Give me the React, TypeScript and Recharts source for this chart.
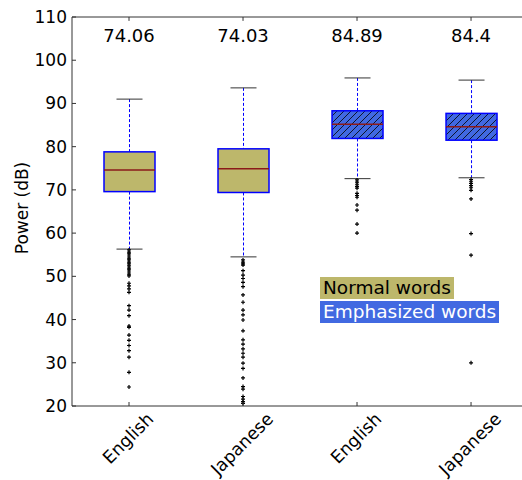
import { ComposedChart, Bar, Scatter, XAxis, YAxis, ReferenceLine } from 'recharts';

// box positions on the x axis (matplotlib style 1..4)
const POSITIONS = [1, 2, 3, 4];
const CATEGORIES = ['English', 'Japanese', 'English', 'Japanese'];
const GROUPS = ['normal', 'normal', 'emphasized', 'emphasized'];

const Q1 = [69.6, 69.4, 81.9, 81.5];
const MEDIAN = [74.6, 74.9, 85.2, 84.6];
const Q3 = [78.8, 79.5, 88.3, 87.7];
const WHISKER_LO = [56.3, 54.5, 72.6, 72.8];
const WHISKER_HI = [91.0, 93.6, 95.9, 95.4];
const MEANS = ['74.06', '74.03', '84.89', '84.4'];
const MEAN_LABEL_Y = 104.2;

const OUTLIERS_EN_NORMAL = [
  56.1, 55.6, 55.2, 54.7, 54.2, 53.8, 53.3, 52.9, 52.4, 51.9, 51.5, 51.0, 50.5, 50.1,
  48.4, 47.8, 47.1, 46.3, 43.2, 42.2, 40.9, 38.5, 38.2, 36.4, 35.2, 34.0, 32.8, 31.3,
  27.8, 24.4,
];
const OUTLIERS_JA_NORMAL = [
  53.8, 53.3, 52.9, 52.6, 51.3, 50.3, 49.5, 48.6, 47.6, 45.7, 44.0, 42.2, 41.1, 39.9,
  37.4, 35.3, 34.3, 33.2, 32.2, 31.3, 29.9, 28.7, 26.5, 24.5, 23.9, 22.2, 21.6, 21.0,
  20.6,
];
const OUTLIERS_EN_EMPH = [72.3, 71.8, 71.3, 70.8, 70.4, 69.2, 68.7, 68.3, 66.5, 65.3, 62.1, 60.0];
const OUTLIERS_JA_EMPH = [72.4, 72.0, 71.5, 71.0, 70.5, 69.9, 67.9, 59.9, 54.9, 30.0];
const OUTLIERS = [OUTLIERS_EN_NORMAL, OUTLIERS_JA_NORMAL, OUTLIERS_EN_EMPH, OUTLIERS_JA_EMPH];

const Y_TICKS = [20, 30, 40, 50, 60, 70, 80, 90, 100, 110];
const Y_TOP = 110;
const TOP_TICK_END = 109.1;
// the original figure is cut at the right edge, a bit before x = 4.5
const X_DOMAIN = [0.5, 4.447];

const FONT = '"DejaVu Sans", sans-serif';
const NORMAL_FILL = '#bdb76b';
const EMPH_FILL = '#4169e1';
const EDGE = '#0000ff';
const MEDIAN_COLOR = '#8b1a1a';
const AXIS_COLOR = '#333';

const boxData = POSITIONS.map((pos, i) => ({
  pos,
  q1: Q1[i],
  med: MEDIAN[i],
  q3: Q3[i],
  lo: WHISKER_LO[i],
  hi: WHISKER_HI[i],
  group: GROUPS[i],
}));

const outlierData = POSITIONS.flatMap((pos, i) => OUTLIERS[i].map((v) => ({ pos, v })));
const meanData = POSITIONS.map((pos, i) => ({ pos, v: MEAN_LABEL_Y, label: MEANS[i] }));

function textWidth(text: string, font: string) {
  try {
    const ctx = document.createElement('canvas').getContext('2d');
    if (ctx) {
      ctx.font = font;
      return ctx.measureText(text).width;
    }
  } catch (e) {
    // ignore
  }
  return text.length * 9;
}

function BoxShape(props: any) {
  const { x, y, width, height, payload } = props;
  if (!payload) return null;
  const k = height / (payload.q3 - payload.q1);
  const cx = x + width / 2;
  const yMed = y + (payload.q3 - payload.med) * k;
  const yHi = y - (payload.hi - payload.q3) * k;
  const yLo = y + height + (payload.q1 - payload.lo) * k;
  const emph = payload.group === 'emphasized';
  const pid = `hatch-${payload.pos}`;
  return (
    <g>
      <defs>
        <pattern id={pid} patternUnits="userSpaceOnUse" width={7} height={7}>
          <path d="M-1,1 l2,-2 M0,7 l7,-7 M6,8 l2,-2" stroke="#000" strokeWidth={0.8} />
        </pattern>
      </defs>
      <line x1={cx} x2={cx} y1={yHi} y2={y} stroke={EDGE} strokeDasharray="3 2" />
      <line x1={cx} x2={cx} y1={y + height} y2={yLo} stroke={EDGE} strokeDasharray="3 2" />
      <line x1={cx - 13} x2={cx + 13} y1={yHi} y2={yHi} stroke={AXIS_COLOR} />
      <line x1={cx - 13} x2={cx + 13} y1={yLo} y2={yLo} stroke={AXIS_COLOR} />
      <rect x={x} y={y} width={width} height={height} fill={emph ? EMPH_FILL : NORMAL_FILL} />
      {emph && <rect x={x} y={y} width={width} height={height} fill={`url(#${pid})`} />}
      <rect x={x} y={y} width={width} height={height} fill="none" stroke={EDGE} strokeWidth={1.5} />
      <line x1={x} x2={x + width} y1={yMed} y2={yMed} stroke={MEDIAN_COLOR} strokeWidth={1.5} />
    </g>
  );
}

function Plus({ cx, cy }: any) {
  return (
    <path
      d={`M${cx - 2},${cy} H${cx + 2} M${cx},${cy - 2} V${cy + 2}`}
      stroke="#000"
      strokeWidth={1.2}
    />
  );
}

function MeanText({ cx, cy, payload }: any) {
  return (
    <text x={cx} y={cy} textAnchor="middle" fontSize={18} fontFamily={FONT} fill="#000">
      {payload.label}
    </text>
  );
}

function BottomTick({ x, y, payload }: any) {
  const label = CATEGORIES[POSITIONS.indexOf(payload.value)] ?? '';
  const w = textWidth(label, `17.5px ${FONT}`);
  const half = ((w + 14) * 0.7071) / 2;
  const ty = y + 5 + half;
  return (
    <g>
      <line x1={x} x2={x} y1={y} y2={y - 4} stroke={AXIS_COLOR} />
      <text
        x={x - 1}
        y={ty}
        textAnchor="middle"
        dominantBaseline="central"
        fontSize={17.5}
        fontFamily={FONT}
        fill="#000"
        transform={`rotate(-45 ${x - 1} ${ty})`}
      >
        {label}
      </text>
    </g>
  );
}

function LeftTick({ x, y, payload }: any) {
  return (
    <g>
      <line x1={x} x2={x + 4} y1={y} y2={y} stroke={AXIS_COLOR} />
      <text
        x={x - 5}
        y={y}
        textAnchor="end"
        dominantBaseline="central"
        fontSize={17}
        fontFamily={FONT}
        fill="#000"
      >
        {payload.value}
      </text>
    </g>
  );
}

function YLabel() {
  return (
    <text
      x={22}
      y={208}
      textAnchor="middle"
      dominantBaseline="central"
      fontSize={17}
      fontFamily={FONT}
      fill="#000"
      transform="rotate(-90 22 208)"
    >
      Power (dB)
    </text>
  );
}

export default function App() {
  return (
    <div
      style={{
        position: 'absolute',
        left: 0,
        top: 0,
        width: 522,
        height: 480,
        background: '#fff',
      }}
    >
      <ComposedChart
        width={522}
        height={480}
        data={boxData}
        margin={{ top: 17, right: 0, bottom: 0, left: 0 }}
      >
        <XAxis
          dataKey="pos"
          type="number"
          domain={X_DOMAIN}
          allowDataOverflow
          ticks={POSITIONS}
          tickSize={0}
          tickMargin={0}
          height={74}
          axisLine={{ stroke: AXIS_COLOR }}
          tick={<BottomTick />}
          interval={0}
        />
        <YAxis
          type="number"
          domain={[20, 110]}
          ticks={Y_TICKS}
          width={72}
          tickSize={0}
          tickMargin={0}
          allowDataOverflow
          axisLine={{ stroke: AXIS_COLOR }}
          tick={<LeftTick />}
          interval={0}
        />
        <ReferenceLine y={Y_TOP} stroke={AXIS_COLOR} />
        {POSITIONS.map((p) => (
          <ReferenceLine
            key={p}
            segment={[
              { x: p, y: Y_TOP },
              { x: p, y: TOP_TICK_END },
            ]}
            stroke={AXIS_COLOR}
          />
        ))}
        <Bar
          dataKey={(d: any) => [d.q1, d.q3]}
          barSize={51}
          shape={<BoxShape />}
          isAnimationActive={false}
        />
        <Scatter data={outlierData} dataKey="v" shape={<Plus />} isAnimationActive={false} />
        <Scatter data={meanData} dataKey="v" shape={<MeanText />} isAnimationActive={false} />
        <YLabel />
      </ComposedChart>
      <div
        style={{
          position: 'absolute',
          left: 320,
          top: 277,
          fontFamily: FONT,
          fontSize: 18.5,
          lineHeight: '22px',
        }}
      >
        <div style={{ background: NORMAL_FILL, color: '#000', padding: '0 3px', width: 'fit-content' }}>
          Normal words
        </div>
        <div
          style={{
            background: EMPH_FILL,
            color: '#fff',
            padding: '0 3px',
            marginTop: 2,
            width: 'fit-content',
          }}
        >
          Emphasized words
        </div>
      </div>
    </div>
  );
}
